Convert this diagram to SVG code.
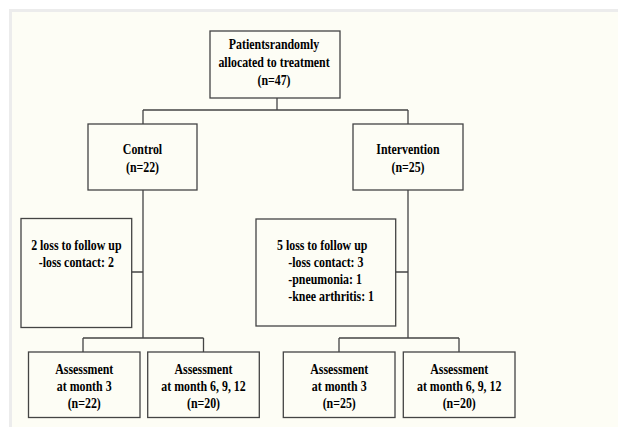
<svg xmlns="http://www.w3.org/2000/svg" width="618" height="427" viewBox="0 0 618 427">
<style>
.box{fill:none;stroke:#444;stroke-width:1.3}
.ln{fill:none;stroke:#444;stroke-width:1.3}
text{font-family:"Liberation Serif","Times New Roman",serif;font-weight:bold;font-size:14.4px;fill:#000}
.c{text-anchor:middle}
</style>
<rect x="0" y="0" width="618" height="427" fill="#ffffff"/>
<rect x="9" y="9" width="620" height="430" fill="#ececec"/>
<rect x="12" y="12" width="620" height="430" fill="#fdfdf5"/>
<g id="connectors">
<path class="ln" d="M277 98V110M143 110H408M143 110V124M408 110V124"/>
<path class="ln" d="M143 190V338M131.7 272H143M83 338H203.5M83 338V352M203.5 338V352"/>
<path class="ln" d="M408 190V338M395.7 272H408M339 338H459M339 338V352M459 338V352"/>
</g>
<g id="root">
<rect class="box" x="210" y="31" width="130" height="67"/>
<text class="c" transform="translate(274 49) scale(0.825 1)">Patientsrandomly</text>
<text class="c" transform="translate(274 67) scale(0.825 1)">allocated to treatment</text>
<text class="c" transform="translate(274 85) scale(0.825 1)">(n=47)</text>
</g>
<g id="control">
<rect class="box" x="88" y="124" width="109" height="66"/>
<text class="c" transform="translate(142.5 153.5) scale(0.825 1)">Control</text>
<text class="c" transform="translate(142.5 171.5) scale(0.825 1)">(n=22)</text>
</g>
<g id="intervention">
<rect class="box" x="353" y="124" width="110" height="66"/>
<text class="c" transform="translate(408 153.5) scale(0.825 1)">Intervention</text>
<text class="c" transform="translate(408 171.5) scale(0.825 1)">(n=25)</text>
</g>
<g id="loss-control">
<rect class="box" x="21" y="218.5" width="110.7" height="109"/>
<text class="c" transform="translate(76.3 249.5) scale(0.825 1)">2 loss to follow up</text>
<text class="c" transform="translate(76.3 267) scale(0.825 1)">-loss contact: 2</text>
</g>
<g id="loss-intervention">
<rect class="box" x="256" y="219" width="139.7" height="107"/>
<text transform="translate(277 249.5) scale(0.825 1)">5 loss to follow up</text>
<text transform="translate(288.3 267) scale(0.825 1)">-loss contact: 3</text>
<text transform="translate(288.3 284) scale(0.825 1)">-pneumonia: 1</text>
<text transform="translate(288.3 301) scale(0.825 1)">-knee arthritis: 1</text>
</g>
<g id="c-m3">
<rect class="box" x="28.5" y="352" width="111.5" height="65.5"/>
<text class="c" transform="translate(84.2 373.5) scale(0.825 1)">Assessment</text>
<text class="c" transform="translate(84.2 390.5) scale(0.825 1)">at month 3</text>
<text class="c" transform="translate(84.2 408) scale(0.825 1)">(n=22)</text>
</g>
<g id="c-m6">
<rect class="box" x="147.7" y="352" width="111.6" height="65.5"/>
<text class="c" transform="translate(203.5 373.5) scale(0.825 1)">Assessment</text>
<text class="c" transform="translate(203.5 390.5) scale(0.825 1)">at month 6, 9, 12</text>
<text class="c" transform="translate(203.5 408) scale(0.825 1)">(n=20)</text>
</g>
<g id="i-m3">
<rect class="box" x="283.3" y="352" width="111.7" height="65.5"/>
<text class="c" transform="translate(339.2 373.5) scale(0.825 1)">Assessment</text>
<text class="c" transform="translate(339.2 390.5) scale(0.825 1)">at month 3</text>
<text class="c" transform="translate(339.2 408) scale(0.825 1)">(n=25)</text>
</g>
<g id="i-m6">
<rect class="box" x="403.3" y="352" width="111.7" height="65.5"/>
<text class="c" transform="translate(459.2 373.5) scale(0.825 1)">Assessment</text>
<text class="c" transform="translate(459.2 390.5) scale(0.825 1)">at month 6, 9, 12</text>
<text class="c" transform="translate(459.2 408) scale(0.825 1)">(n=20)</text>
</g>
</svg>
